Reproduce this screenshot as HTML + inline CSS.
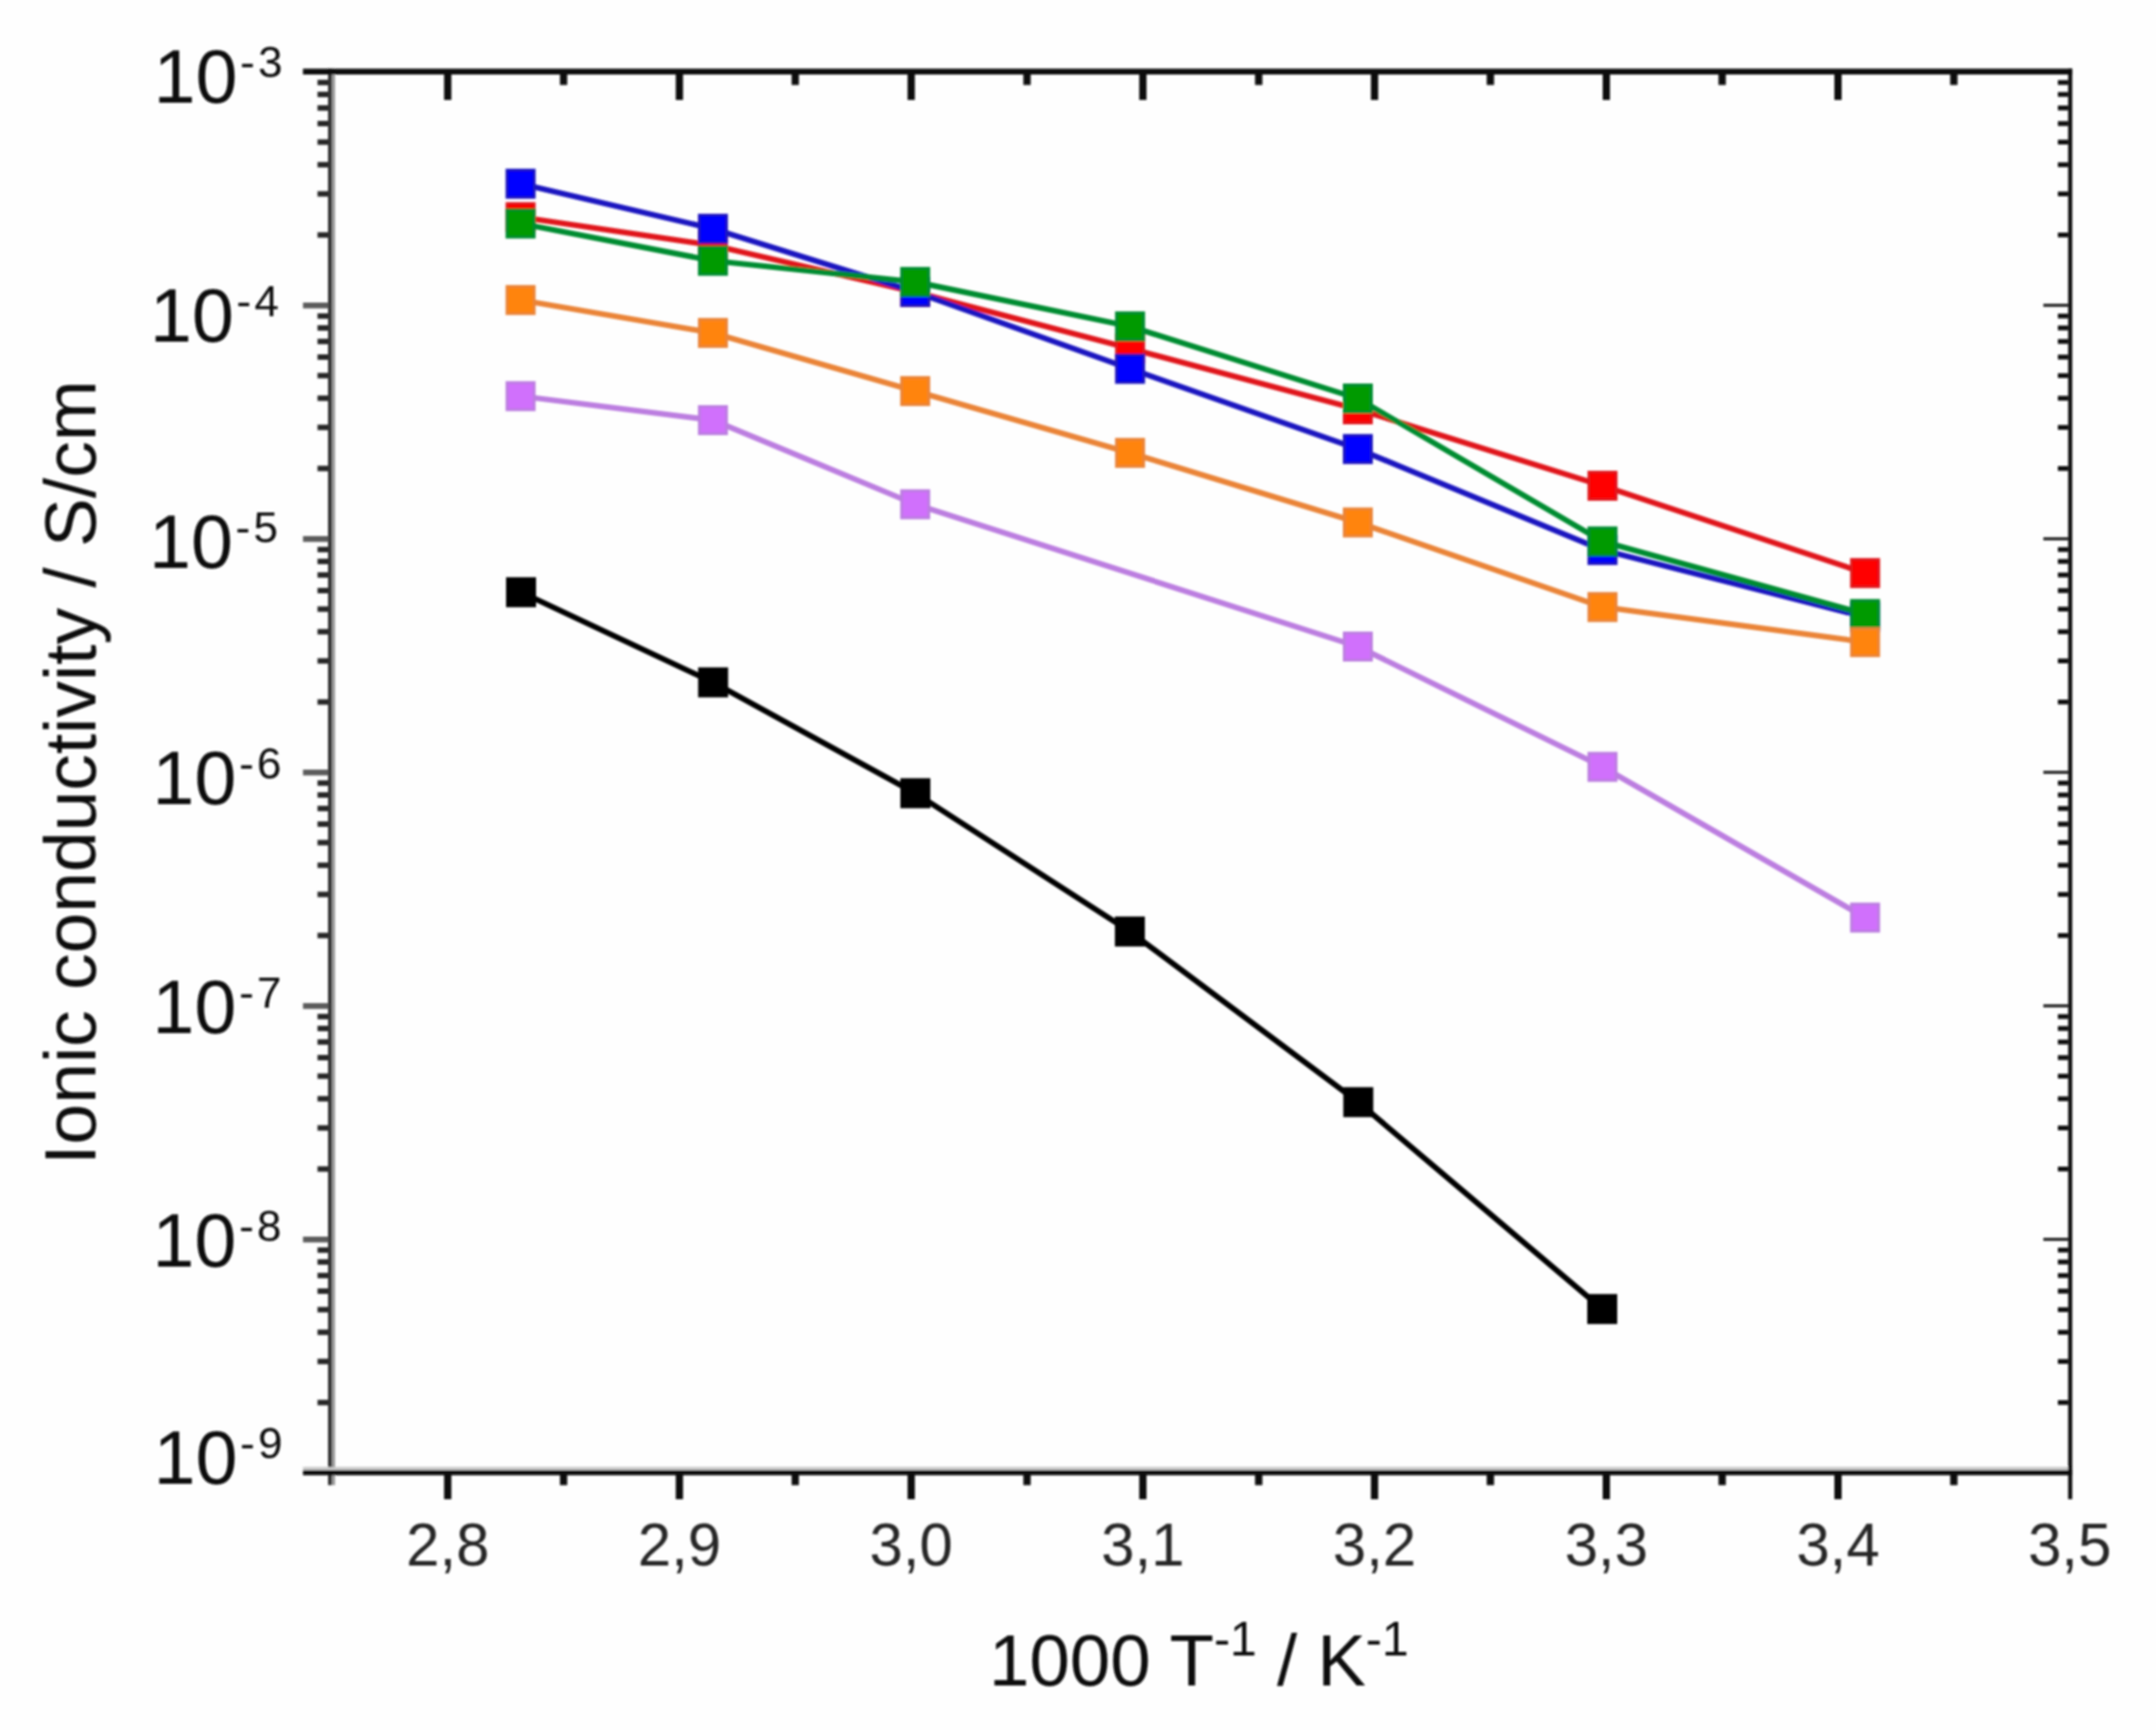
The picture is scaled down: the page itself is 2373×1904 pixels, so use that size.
<!DOCTYPE html>
<html lang="en"><head><meta charset="utf-8">
<title>Ionic conductivity vs 1000/T</title>
<style>
html,body{margin:0;padding:0;background:#fefefe;}
body{width:2373px;height:1904px;overflow:hidden;}
svg{display:block;}
text{font-family:'Liberation Sans', Arial, Helvetica, sans-serif;fill:#0c0c0c;}
#xlabels text{fill:#262626;}
</style></head><body>
<svg width="2373" height="1904" viewBox="0 0 2373 1904">
<defs><filter id="soft" x="-2%" y="-2%" width="104%" height="104%" filterUnits="objectBoundingBox"><feGaussianBlur stdDeviation="1.30"/></filter>
<filter id="softT" x="-5%" y="-5%" width="110%" height="110%"><feGaussianBlur stdDeviation="0.91"/></filter></defs>
<rect x="0" y="0" width="2373" height="1904" fill="#fefefe"/>
<g filter="url(#soft)">
<g id="frame">
<rect x="361.0" y="75.6" width="4.6" height="1558.9" fill="#363636"/>
<rect x="365.6" y="75.6" width="3.2" height="1558.9" fill="#9a9a9a"/>
<rect x="333.5" y="75.6" width="1947.3" height="6.4" fill="#0a0a0a"/>
<rect x="333.5" y="1614.5" width="1947.3" height="4.0" fill="#c8c8c8"/>
<rect x="333.5" y="1618.0" width="1947.3" height="5.6" fill="#0a0a0a"/>
<rect x="2276.3" y="75.6" width="4.5" height="1574.4" fill="#0a0a0a"/>
</g>
<g id="xticks" fill="#0a0a0a">
<rect x="488.8" y="82" width="8.0" height="28"/>
<rect x="488.8" y="1623" width="8.0" height="27"/>
<rect x="743.8" y="82" width="8.0" height="28"/>
<rect x="743.8" y="1623" width="8.0" height="27"/>
<rect x="998.9" y="82" width="8.0" height="28"/>
<rect x="998.9" y="1623" width="8.0" height="27"/>
<rect x="1253.9" y="82" width="8.0" height="28"/>
<rect x="1253.9" y="1623" width="8.0" height="27"/>
<rect x="1508.9" y="82" width="8.0" height="28"/>
<rect x="1508.9" y="1623" width="8.0" height="27"/>
<rect x="1764.0" y="82" width="8.0" height="28"/>
<rect x="1764.0" y="1623" width="8.0" height="27"/>
<rect x="2019.0" y="82" width="8.0" height="28"/>
<rect x="2019.0" y="1623" width="8.0" height="27"/>
<rect x="616.3" y="82" width="8.0" height="11.5"/>
<rect x="616.3" y="1623" width="8.0" height="11.5"/>
<rect x="871.3" y="82" width="8.0" height="11.5"/>
<rect x="871.3" y="1623" width="8.0" height="11.5"/>
<rect x="1126.4" y="82" width="8.0" height="11.5"/>
<rect x="1126.4" y="1623" width="8.0" height="11.5"/>
<rect x="1381.4" y="82" width="8.0" height="11.5"/>
<rect x="1381.4" y="1623" width="8.0" height="11.5"/>
<rect x="1636.4" y="82" width="8.0" height="11.5"/>
<rect x="1636.4" y="1623" width="8.0" height="11.5"/>
<rect x="1891.5" y="82" width="8.0" height="11.5"/>
<rect x="1891.5" y="1623" width="8.0" height="11.5"/>
<rect x="2146.5" y="82" width="8.0" height="11.5"/>
<rect x="2146.5" y="1623" width="8.0" height="11.5"/>
</g>
<g id="yticks" fill="#0a0a0a">
<rect x="333.5" y="333.0" width="28.0" height="6.4" fill="#5c5c5c"/>
<rect x="2249.0" y="334.5" width="27.5" height="3"/>
<rect x="333.5" y="590.0" width="28.0" height="6.4" fill="#5c5c5c"/>
<rect x="2249.0" y="591.5" width="27.5" height="3"/>
<rect x="333.5" y="847.0" width="28.0" height="6.4" fill="#5c5c5c"/>
<rect x="2249.0" y="848.5" width="27.5" height="3"/>
<rect x="333.5" y="1104.0" width="28.0" height="6.4" fill="#5c5c5c"/>
<rect x="2249.0" y="1105.5" width="27.5" height="3"/>
<rect x="333.5" y="1361.0" width="28.0" height="6.4" fill="#5c5c5c"/>
<rect x="2249.0" y="1362.5" width="27.5" height="3"/>
<rect x="349.5" y="255.6" width="12.1" height="6.0" fill="#262626"/>
<rect x="2265" y="256.0" width="11.5" height="5.2"/>
<rect x="349.5" y="210.4" width="12.1" height="6.0" fill="#262626"/>
<rect x="2265" y="210.8" width="11.5" height="5.2"/>
<rect x="349.5" y="178.3" width="12.1" height="6.0" fill="#262626"/>
<rect x="2265" y="178.7" width="11.5" height="5.2"/>
<rect x="349.5" y="153.4" width="12.1" height="6.0" fill="#262626"/>
<rect x="2265" y="153.8" width="11.5" height="5.2"/>
<rect x="349.5" y="133.0" width="12.1" height="6.0" fill="#262626"/>
<rect x="2265" y="133.4" width="11.5" height="5.2"/>
<rect x="349.5" y="115.8" width="12.1" height="6.0" fill="#262626"/>
<rect x="2265" y="116.2" width="11.5" height="5.2"/>
<rect x="349.5" y="100.9" width="12.1" height="6.0" fill="#262626"/>
<rect x="2265" y="101.3" width="11.5" height="5.2"/>
<rect x="349.5" y="87.8" width="12.1" height="6.0" fill="#262626"/>
<rect x="2265" y="88.2" width="11.5" height="5.2"/>
<rect x="349.5" y="512.6" width="12.1" height="6.0" fill="#262626"/>
<rect x="2265" y="513.0" width="11.5" height="5.2"/>
<rect x="349.5" y="467.4" width="12.1" height="6.0" fill="#262626"/>
<rect x="2265" y="467.8" width="11.5" height="5.2"/>
<rect x="349.5" y="435.3" width="12.1" height="6.0" fill="#262626"/>
<rect x="2265" y="435.7" width="11.5" height="5.2"/>
<rect x="349.5" y="410.4" width="12.1" height="6.0" fill="#262626"/>
<rect x="2265" y="410.8" width="11.5" height="5.2"/>
<rect x="349.5" y="390.0" width="12.1" height="6.0" fill="#262626"/>
<rect x="2265" y="390.4" width="11.5" height="5.2"/>
<rect x="349.5" y="372.8" width="12.1" height="6.0" fill="#262626"/>
<rect x="2265" y="373.2" width="11.5" height="5.2"/>
<rect x="349.5" y="357.9" width="12.1" height="6.0" fill="#262626"/>
<rect x="2265" y="358.3" width="11.5" height="5.2"/>
<rect x="349.5" y="344.8" width="12.1" height="6.0" fill="#262626"/>
<rect x="2265" y="345.2" width="11.5" height="5.2"/>
<rect x="349.5" y="769.6" width="12.1" height="6.0" fill="#262626"/>
<rect x="2265" y="770.0" width="11.5" height="5.2"/>
<rect x="349.5" y="724.4" width="12.1" height="6.0" fill="#262626"/>
<rect x="2265" y="724.8" width="11.5" height="5.2"/>
<rect x="349.5" y="692.3" width="12.1" height="6.0" fill="#262626"/>
<rect x="2265" y="692.7" width="11.5" height="5.2"/>
<rect x="349.5" y="667.4" width="12.1" height="6.0" fill="#262626"/>
<rect x="2265" y="667.8" width="11.5" height="5.2"/>
<rect x="349.5" y="647.0" width="12.1" height="6.0" fill="#262626"/>
<rect x="2265" y="647.4" width="11.5" height="5.2"/>
<rect x="349.5" y="629.8" width="12.1" height="6.0" fill="#262626"/>
<rect x="2265" y="630.2" width="11.5" height="5.2"/>
<rect x="349.5" y="614.9" width="12.1" height="6.0" fill="#262626"/>
<rect x="2265" y="615.3" width="11.5" height="5.2"/>
<rect x="349.5" y="601.8" width="12.1" height="6.0" fill="#262626"/>
<rect x="2265" y="602.2" width="11.5" height="5.2"/>
<rect x="349.5" y="1026.6" width="12.1" height="6.0" fill="#262626"/>
<rect x="2265" y="1027.0" width="11.5" height="5.2"/>
<rect x="349.5" y="981.4" width="12.1" height="6.0" fill="#262626"/>
<rect x="2265" y="981.8" width="11.5" height="5.2"/>
<rect x="349.5" y="949.3" width="12.1" height="6.0" fill="#262626"/>
<rect x="2265" y="949.7" width="11.5" height="5.2"/>
<rect x="349.5" y="924.4" width="12.1" height="6.0" fill="#262626"/>
<rect x="2265" y="924.8" width="11.5" height="5.2"/>
<rect x="349.5" y="904.0" width="12.1" height="6.0" fill="#262626"/>
<rect x="2265" y="904.4" width="11.5" height="5.2"/>
<rect x="349.5" y="886.8" width="12.1" height="6.0" fill="#262626"/>
<rect x="2265" y="887.2" width="11.5" height="5.2"/>
<rect x="349.5" y="871.9" width="12.1" height="6.0" fill="#262626"/>
<rect x="2265" y="872.3" width="11.5" height="5.2"/>
<rect x="349.5" y="858.8" width="12.1" height="6.0" fill="#262626"/>
<rect x="2265" y="859.2" width="11.5" height="5.2"/>
<rect x="349.5" y="1283.6" width="12.1" height="6.0" fill="#262626"/>
<rect x="2265" y="1284.0" width="11.5" height="5.2"/>
<rect x="349.5" y="1238.4" width="12.1" height="6.0" fill="#262626"/>
<rect x="2265" y="1238.8" width="11.5" height="5.2"/>
<rect x="349.5" y="1206.3" width="12.1" height="6.0" fill="#262626"/>
<rect x="2265" y="1206.7" width="11.5" height="5.2"/>
<rect x="349.5" y="1181.4" width="12.1" height="6.0" fill="#262626"/>
<rect x="2265" y="1181.8" width="11.5" height="5.2"/>
<rect x="349.5" y="1161.0" width="12.1" height="6.0" fill="#262626"/>
<rect x="2265" y="1161.4" width="11.5" height="5.2"/>
<rect x="349.5" y="1143.8" width="12.1" height="6.0" fill="#262626"/>
<rect x="2265" y="1144.2" width="11.5" height="5.2"/>
<rect x="349.5" y="1128.9" width="12.1" height="6.0" fill="#262626"/>
<rect x="2265" y="1129.3" width="11.5" height="5.2"/>
<rect x="349.5" y="1115.8" width="12.1" height="6.0" fill="#262626"/>
<rect x="2265" y="1116.2" width="11.5" height="5.2"/>
<rect x="349.5" y="1540.6" width="12.1" height="6.0" fill="#262626"/>
<rect x="2265" y="1541.0" width="11.5" height="5.2"/>
<rect x="349.5" y="1495.4" width="12.1" height="6.0" fill="#262626"/>
<rect x="2265" y="1495.8" width="11.5" height="5.2"/>
<rect x="349.5" y="1463.3" width="12.1" height="6.0" fill="#262626"/>
<rect x="2265" y="1463.7" width="11.5" height="5.2"/>
<rect x="349.5" y="1438.4" width="12.1" height="6.0" fill="#262626"/>
<rect x="2265" y="1438.8" width="11.5" height="5.2"/>
<rect x="349.5" y="1418.0" width="12.1" height="6.0" fill="#262626"/>
<rect x="2265" y="1418.4" width="11.5" height="5.2"/>
<rect x="349.5" y="1400.8" width="12.1" height="6.0" fill="#262626"/>
<rect x="2265" y="1401.2" width="11.5" height="5.2"/>
<rect x="349.5" y="1385.9" width="12.1" height="6.0" fill="#262626"/>
<rect x="2265" y="1386.3" width="11.5" height="5.2"/>
<rect x="349.5" y="1372.8" width="12.1" height="6.0" fill="#262626"/>
<rect x="2265" y="1373.2" width="11.5" height="5.2"/>
</g>
<g id="data">
<polyline fill="none" stroke="#000000" stroke-width="6.2" stroke-linejoin="round" points="573.5,651.8 784.9,751.0 1007.5,873.0 1243.6,1025.2 1495.0,1213.0 1763.5,1440.7"/>
<rect x="558.5" y="636.8" width="30.0" height="30.0" fill="#000000" stroke="#000000" stroke-width="3.0"/>
<rect x="769.9" y="736.0" width="30.0" height="30.0" fill="#000000" stroke="#000000" stroke-width="3.0"/>
<rect x="992.5" y="858.0" width="30.0" height="30.0" fill="#000000" stroke="#000000" stroke-width="3.0"/>
<rect x="1228.6" y="1010.2" width="30.0" height="30.0" fill="#000000" stroke="#000000" stroke-width="3.0"/>
<rect x="1480.0" y="1198.0" width="30.0" height="30.0" fill="#000000" stroke="#000000" stroke-width="3.0"/>
<rect x="1748.5" y="1425.7" width="30.0" height="30.0" fill="#000000" stroke="#000000" stroke-width="3.0"/>
<polyline fill="none" stroke="#e0181e" stroke-width="6.2" stroke-linejoin="round" points="573.0,239.0 784.7,270.0 1007.3,321.5 1243.8,383.6 1494.5,450.5 1763.8,534.6 2052.8,630.7"/>
<rect x="558.0" y="224.0" width="30.0" height="30.0" fill="#ff0000" stroke="#e0181e" stroke-width="3.0"/>
<rect x="769.7" y="255.0" width="30.0" height="30.0" fill="#ff0000" stroke="#e0181e" stroke-width="3.0"/>
<rect x="992.3" y="306.5" width="30.0" height="30.0" fill="#ff0000" stroke="#e0181e" stroke-width="3.0"/>
<rect x="1228.8" y="368.6" width="30.0" height="30.0" fill="#ff0000" stroke="#e0181e" stroke-width="3.0"/>
<rect x="1479.5" y="435.5" width="30.0" height="30.0" fill="#ff0000" stroke="#e0181e" stroke-width="3.0"/>
<rect x="1748.8" y="519.6" width="30.0" height="30.0" fill="#ff0000" stroke="#e0181e" stroke-width="3.0"/>
<rect x="2037.8" y="615.7" width="30.0" height="30.0" fill="#ff0000" stroke="#e0181e" stroke-width="3.0"/>
<polyline fill="none" stroke="#1a14c0" stroke-width="6.2" stroke-linejoin="round" points="573.0,202.2 784.7,251.8 1007.3,321.3 1243.8,405.9 1494.5,494.2 1763.8,605.3 2052.8,679.0"/>
<rect x="558.0" y="187.2" width="30.0" height="30.0" fill="#0000ff" stroke="#1a14c0" stroke-width="3.0"/>
<rect x="769.7" y="236.8" width="30.0" height="30.0" fill="#0000ff" stroke="#1a14c0" stroke-width="3.0"/>
<rect x="992.3" y="306.3" width="30.0" height="30.0" fill="#0000ff" stroke="#1a14c0" stroke-width="3.0"/>
<rect x="1228.8" y="390.9" width="30.0" height="30.0" fill="#0000ff" stroke="#1a14c0" stroke-width="3.0"/>
<rect x="1479.5" y="479.2" width="30.0" height="30.0" fill="#0000ff" stroke="#1a14c0" stroke-width="3.0"/>
<rect x="1748.8" y="590.3" width="30.0" height="30.0" fill="#0000ff" stroke="#1a14c0" stroke-width="3.0"/>
<rect x="2037.8" y="664.0" width="30.0" height="30.0" fill="#0000ff" stroke="#1a14c0" stroke-width="3.0"/>
<polyline fill="none" stroke="#008c30" stroke-width="6.2" stroke-linejoin="round" points="573.0,246.0 784.7,287.0 1007.3,310.3 1243.8,359.2 1494.5,438.6 1763.8,595.9 2052.8,675.8"/>
<rect x="558.0" y="231.0" width="30.0" height="30.0" fill="#009a00" stroke="#008c30" stroke-width="3.0"/>
<rect x="769.7" y="272.0" width="30.0" height="30.0" fill="#009a00" stroke="#008c30" stroke-width="3.0"/>
<rect x="992.3" y="295.3" width="30.0" height="30.0" fill="#009a00" stroke="#008c30" stroke-width="3.0"/>
<rect x="1228.8" y="344.2" width="30.0" height="30.0" fill="#009a00" stroke="#008c30" stroke-width="3.0"/>
<rect x="1479.5" y="423.6" width="30.0" height="30.0" fill="#009a00" stroke="#008c30" stroke-width="3.0"/>
<rect x="1748.8" y="580.9" width="30.0" height="30.0" fill="#009a00" stroke="#008c30" stroke-width="3.0"/>
<rect x="2037.8" y="660.8" width="30.0" height="30.0" fill="#009a00" stroke="#008c30" stroke-width="3.0"/>
<polyline fill="none" stroke="#ea8438" stroke-width="6.2" stroke-linejoin="round" points="573.0,330.2 784.7,366.4 1007.3,430.4 1243.8,498.4 1494.5,575.0 1763.8,668.1 2052.8,706.7"/>
<rect x="558.0" y="315.2" width="30.0" height="30.0" fill="#ff8408" stroke="#ea8438" stroke-width="3.0"/>
<rect x="769.7" y="351.4" width="30.0" height="30.0" fill="#ff8408" stroke="#ea8438" stroke-width="3.0"/>
<rect x="992.3" y="415.4" width="30.0" height="30.0" fill="#ff8408" stroke="#ea8438" stroke-width="3.0"/>
<rect x="1228.8" y="483.4" width="30.0" height="30.0" fill="#ff8408" stroke="#ea8438" stroke-width="3.0"/>
<rect x="1479.5" y="560.0" width="30.0" height="30.0" fill="#ff8408" stroke="#ea8438" stroke-width="3.0"/>
<rect x="1748.8" y="653.1" width="30.0" height="30.0" fill="#ff8408" stroke="#ea8438" stroke-width="3.0"/>
<rect x="2037.8" y="691.7" width="30.0" height="30.0" fill="#ff8408" stroke="#ea8438" stroke-width="3.0"/>
<polyline fill="none" stroke="#bc7ee0" stroke-width="6.2" stroke-linejoin="round" points="573.0,436.0 784.7,462.4 1007.3,555.0 1494.5,711.6 1763.8,844.0 2052.8,1009.9"/>
<rect x="558.0" y="421.0" width="30.0" height="30.0" fill="#d070fc" stroke="#bc7ee0" stroke-width="3.0"/>
<rect x="769.7" y="447.4" width="30.0" height="30.0" fill="#d070fc" stroke="#bc7ee0" stroke-width="3.0"/>
<rect x="992.3" y="540.0" width="30.0" height="30.0" fill="#d070fc" stroke="#bc7ee0" stroke-width="3.0"/>
<rect x="1479.5" y="696.6" width="30.0" height="30.0" fill="#d070fc" stroke="#bc7ee0" stroke-width="3.0"/>
<rect x="1748.8" y="829.0" width="30.0" height="30.0" fill="#d070fc" stroke="#bc7ee0" stroke-width="3.0"/>
<rect x="2037.8" y="994.9" width="30.0" height="30.0" fill="#d070fc" stroke="#bc7ee0" stroke-width="3.0"/>
</g>
</g>
<g filter="url(#softT)">
<g id="xlabels" font-size="66" text-anchor="middle">
<text x="492.8" y="1722.5">2,8</text>
<text x="747.8" y="1722.5">2,9</text>
<text x="1002.9" y="1722.5">3,0</text>
<text x="1257.9" y="1722.5">3,1</text>
<text x="1512.9" y="1722.5">3,2</text>
<text x="1768.0" y="1722.5">3,3</text>
<text x="2023.0" y="1722.5">3,4</text>
<text x="2278.0" y="1722.5">3,5</text>
</g>
<g id="ylabels">
<text x="169.0" y="112.5" font-size="83">10<tspan font-size="48.5" dx="3" dy="-28" letter-spacing="3.5">-3</tspan></text>
<text x="165.0" y="376.3" font-size="83">10<tspan font-size="48.5" dx="3" dy="-28" letter-spacing="3.5">-4</tspan></text>
<text x="164.0" y="625.0" font-size="83">10<tspan font-size="48.5" dx="3" dy="-28" letter-spacing="3.5">-5</tspan></text>
<text x="167.8" y="885.2" font-size="83">10<tspan font-size="48.5" dx="3" dy="-28" letter-spacing="3.5">-6</tspan></text>
<text x="167.8" y="1137.2" font-size="83">10<tspan font-size="48.5" dx="3" dy="-28" letter-spacing="3.5">-7</tspan></text>
<text x="167.8" y="1394.0" font-size="83">10<tspan font-size="48.5" dx="3" dy="-28" letter-spacing="3.5">-8</tspan></text>
<text x="169.0" y="1633.2" font-size="83">10<tspan font-size="48.5" dx="3" dy="-28" letter-spacing="3.5">-9</tspan></text>
</g>
<text id="xtitle" x="1088.5" y="1854.5" font-size="80">1000 T<tspan font-size="53" dy="-32.5">-1</tspan><tspan dy="32.5"> / K</tspan><tspan font-size="53" dy="-32.5">-1</tspan></text>
<text id="ytitle" transform="translate(105,1282) rotate(-90)" font-size="80.5">Ionic conductivity / S/cm</text>
</g>
</svg>
</body></html>
